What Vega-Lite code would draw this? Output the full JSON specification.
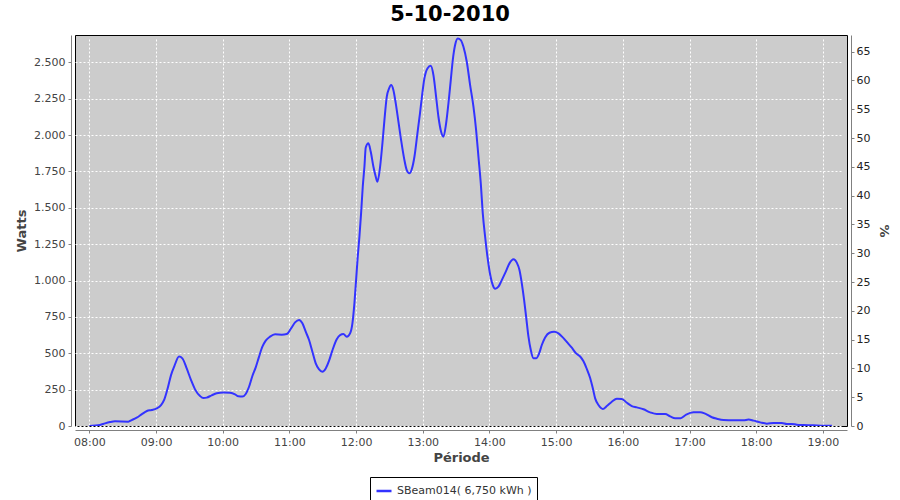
{
  "$schema": "https://vega.github.io/schema/vega-lite/v6.json",
  "width": 772,
  "height": 391,
  "autosize": {"type": "none"},
  "padding": {"left": 75, "top": 35, "right": 53, "bottom": 74},
  "background": "white",
  "title": {"text": "5-10-2010", "font": "DejaVu Sans", "fontSize": 21, "fontWeight": "bold", "color": "black", "anchor": "middle", "frame": "group", "dx": -11, "dy": 20, "baseline": "bottom", "offset": 9},
  "data": {"values": [
    {"t": "2010-10-05T08:00:00", "watts": 0},
    {"t": "2010-10-05T08:09:36", "watts": 7},
    {"t": "2010-10-05T08:14:06", "watts": 18},
    {"t": "2010-10-05T08:18:36", "watts": 27},
    {"t": "2010-10-05T08:23:06", "watts": 32},
    {"t": "2010-10-05T08:35:06", "watts": 30},
    {"t": "2010-10-05T08:38:06", "watts": 41},
    {"t": "2010-10-05T08:42:36", "watts": 57},
    {"t": "2010-10-05T08:47:00", "watts": 80},
    {"t": "2010-10-05T08:51:48", "watts": 103},
    {"t": "2010-10-05T08:56:06", "watts": 110},
    {"t": "2010-10-05T09:00:36", "watts": 121},
    {"t": "2010-10-05T09:04:30", "watts": 144},
    {"t": "2010-10-05T09:07:30", "watts": 183},
    {"t": "2010-10-05T09:10:30", "watts": 259},
    {"t": "2010-10-05T09:13:30", "watts": 350},
    {"t": "2010-10-05T09:16:30", "watts": 412},
    {"t": "2010-10-05T09:20:42", "watts": 477},
    {"t": "2010-10-05T09:23:42", "watts": 465},
    {"t": "2010-10-05T09:27:36", "watts": 396},
    {"t": "2010-10-05T09:31:30", "watts": 316},
    {"t": "2010-10-05T09:35:06", "watts": 252},
    {"t": "2010-10-05T09:39:36", "watts": 206},
    {"t": "2010-10-05T09:42:36", "watts": 192},
    {"t": "2010-10-05T09:45:36", "watts": 195},
    {"t": "2010-10-05T09:50:06", "watts": 211},
    {"t": "2010-10-05T09:54:36", "watts": 225},
    {"t": "2010-10-05T10:00:36", "watts": 231},
    {"t": "2010-10-05T10:06:36", "watts": 229},
    {"t": "2010-10-05T10:11:06", "watts": 218},
    {"t": "2010-10-05T10:14:06", "watts": 204},
    {"t": "2010-10-05T10:17:42", "watts": 202},
    {"t": "2010-10-05T10:20:42", "watts": 220},
    {"t": "2010-10-05T10:23:42", "watts": 270},
    {"t": "2010-10-05T10:26:42", "watts": 344},
    {"t": "2010-10-05T10:29:42", "watts": 403},
    {"t": "2010-10-05T10:32:42", "watts": 477},
    {"t": "2010-10-05T10:35:42", "watts": 545},
    {"t": "2010-10-05T10:38:42", "watts": 587},
    {"t": "2010-10-05T10:42:36", "watts": 614},
    {"t": "2010-10-05T10:47:06", "watts": 630},
    {"t": "2010-10-05T10:53:06", "watts": 628},
    {"t": "2010-10-05T10:57:36", "watts": 632},
    {"t": "2010-10-05T11:01:30", "watts": 671},
    {"t": "2010-10-05T11:05:06", "watts": 712},
    {"t": "2010-10-05T11:08:42", "watts": 729},
    {"t": "2010-10-05T11:11:42", "watts": 706},
    {"t": "2010-10-05T11:14:42", "watts": 648},
    {"t": "2010-10-05T11:17:42", "watts": 591},
    {"t": "2010-10-05T11:20:42", "watts": 511},
    {"t": "2010-10-05T11:23:42", "watts": 431},
    {"t": "2010-10-05T11:26:42", "watts": 389},
    {"t": "2010-10-05T11:29:42", "watts": 373},
    {"t": "2010-10-05T11:32:42", "watts": 396},
    {"t": "2010-10-05T11:35:42", "watts": 449},
    {"t": "2010-10-05T11:38:42", "watts": 520},
    {"t": "2010-10-05T11:42:36", "watts": 596},
    {"t": "2010-10-05T11:45:36", "watts": 625},
    {"t": "2010-10-05T11:48:36", "watts": 632},
    {"t": "2010-10-05T11:51:36", "watts": 614},
    {"t": "2010-10-05T11:54:36", "watts": 637},
    {"t": "2010-10-05T11:56:42", "watts": 706},
    {"t": "2010-10-05T11:58:30", "watts": 843},
    {"t": "2010-10-05T12:00:00", "watts": 1003},
    {"t": "2010-10-05T12:01:30", "watts": 1164},
    {"t": "2010-10-05T12:03:00", "watts": 1301},
    {"t": "2010-10-05T12:04:30", "watts": 1462},
    {"t": "2010-10-05T12:06:00", "watts": 1645},
    {"t": "2010-10-05T12:07:30", "watts": 1782},
    {"t": "2010-10-05T12:08:42", "watts": 1915},
    {"t": "2010-10-05T12:11:06", "watts": 1943},
    {"t": "2010-10-05T12:13:12", "watts": 1885},
    {"t": "2010-10-05T12:15:36", "watts": 1782},
    {"t": "2010-10-05T12:17:42", "watts": 1714},
    {"t": "2010-10-05T12:19:12", "watts": 1679},
    {"t": "2010-10-05T12:21:36", "watts": 1782},
    {"t": "2010-10-05T12:23:42", "watts": 1943},
    {"t": "2010-10-05T12:25:30", "watts": 2103},
    {"t": "2010-10-05T12:27:36", "watts": 2263},
    {"t": "2010-10-05T12:29:42", "watts": 2321},
    {"t": "2010-10-05T12:31:30", "watts": 2344},
    {"t": "2010-10-05T12:33:36", "watts": 2309},
    {"t": "2010-10-05T12:35:42", "watts": 2218},
    {"t": "2010-10-05T12:38:06", "watts": 2092},
    {"t": "2010-10-05T12:40:30", "watts": 1966},
    {"t": "2010-10-05T12:43:12", "watts": 1840},
    {"t": "2010-10-05T12:45:36", "watts": 1759},
    {"t": "2010-10-05T12:48:00", "watts": 1737},
    {"t": "2010-10-05T12:50:06", "watts": 1765},
    {"t": "2010-10-05T12:52:30", "watts": 1851},
    {"t": "2010-10-05T12:55:00", "watts": 2000},
    {"t": "2010-10-05T12:57:30", "watts": 2150},
    {"t": "2010-10-05T12:59:30", "watts": 2280},
    {"t": "2010-10-05T13:01:12", "watts": 2378},
    {"t": "2010-10-05T13:04:12", "watts": 2458},
    {"t": "2010-10-05T13:07:12", "watts": 2477},
    {"t": "2010-10-05T13:09:36", "watts": 2412},
    {"t": "2010-10-05T13:12:00", "watts": 2263},
    {"t": "2010-10-05T13:14:06", "watts": 2126},
    {"t": "2010-10-05T13:16:30", "watts": 2023},
    {"t": "2010-10-05T13:18:36", "watts": 1989},
    {"t": "2010-10-05T13:21:00", "watts": 2080},
    {"t": "2010-10-05T13:23:06", "watts": 2218},
    {"t": "2010-10-05T13:25:12", "watts": 2378},
    {"t": "2010-10-05T13:27:00", "watts": 2516},
    {"t": "2010-10-05T13:29:06", "watts": 2619},
    {"t": "2010-10-05T13:31:30", "watts": 2664},
    {"t": "2010-10-05T13:34:12", "watts": 2653},
    {"t": "2010-10-05T13:36:36", "watts": 2607},
    {"t": "2010-10-05T13:39:36", "watts": 2504},
    {"t": "2010-10-05T13:42:36", "watts": 2344},
    {"t": "2010-10-05T13:45:36", "watts": 2195},
    {"t": "2010-10-05T13:48:00", "watts": 2034},
    {"t": "2010-10-05T13:50:06", "watts": 1851},
    {"t": "2010-10-05T13:52:12", "watts": 1668},
    {"t": "2010-10-05T13:54:00", "watts": 1462},
    {"t": "2010-10-05T13:56:06", "watts": 1301},
    {"t": "2010-10-05T13:58:12", "watts": 1164},
    {"t": "2010-10-05T14:00:18", "watts": 1055},
    {"t": "2010-10-05T14:03:00", "watts": 969},
    {"t": "2010-10-05T14:05:06", "watts": 944},
    {"t": "2010-10-05T14:08:06", "watts": 958},
    {"t": "2010-10-05T14:11:06", "watts": 1003},
    {"t": "2010-10-05T14:14:42", "watts": 1061},
    {"t": "2010-10-05T14:18:00", "watts": 1118},
    {"t": "2010-10-05T14:21:36", "watts": 1146},
    {"t": "2010-10-05T14:24:36", "watts": 1123},
    {"t": "2010-10-05T14:27:00", "watts": 1072},
    {"t": "2010-10-05T14:29:06", "watts": 981},
    {"t": "2010-10-05T14:31:12", "watts": 866},
    {"t": "2010-10-05T14:33:00", "watts": 751},
    {"t": "2010-10-05T14:35:06", "watts": 614},
    {"t": "2010-10-05T14:37:12", "watts": 522},
    {"t": "2010-10-05T14:39:36", "watts": 465},
    {"t": "2010-10-05T14:42:00", "watts": 465},
    {"t": "2010-10-05T14:44:42", "watts": 499},
    {"t": "2010-10-05T14:47:06", "watts": 557},
    {"t": "2010-10-05T14:50:06", "watts": 609},
    {"t": "2010-10-05T14:54:00", "watts": 641},
    {"t": "2010-10-05T14:58:12", "watts": 648},
    {"t": "2010-10-05T15:02:06", "watts": 637},
    {"t": "2010-10-05T15:06:00", "watts": 609},
    {"t": "2010-10-05T15:10:12", "watts": 573},
    {"t": "2010-10-05T15:14:06", "watts": 538},
    {"t": "2010-10-05T15:18:00", "watts": 499},
    {"t": "2010-10-05T15:21:36", "watts": 478},
    {"t": "2010-10-05T15:24:36", "watts": 445},
    {"t": "2010-10-05T15:27:36", "watts": 392},
    {"t": "2010-10-05T15:30:36", "watts": 330},
    {"t": "2010-10-05T15:33:00", "watts": 259},
    {"t": "2010-10-05T15:35:06", "watts": 190},
    {"t": "2010-10-05T15:38:06", "watts": 144},
    {"t": "2010-10-05T15:42:00", "watts": 117},
    {"t": "2010-10-05T15:45:36", "watts": 137},
    {"t": "2010-10-05T15:50:06", "watts": 167},
    {"t": "2010-10-05T15:54:36", "watts": 188},
    {"t": "2010-10-05T15:59:06", "watts": 186},
    {"t": "2010-10-05T16:03:36", "watts": 160},
    {"t": "2010-10-05T16:08:06", "watts": 137},
    {"t": "2010-10-05T16:12:36", "watts": 128},
    {"t": "2010-10-05T16:18:36", "watts": 115},
    {"t": "2010-10-05T16:24:36", "watts": 94},
    {"t": "2010-10-05T16:30:36", "watts": 82},
    {"t": "2010-10-05T16:38:06", "watts": 82},
    {"t": "2010-10-05T16:42:36", "watts": 66},
    {"t": "2010-10-05T16:47:06", "watts": 53},
    {"t": "2010-10-05T16:52:00", "watts": 54},
    {"t": "2010-10-05T16:57:00", "watts": 78},
    {"t": "2010-10-05T17:03:36", "watts": 94},
    {"t": "2010-10-05T17:09:36", "watts": 95},
    {"t": "2010-10-05T17:14:06", "watts": 85},
    {"t": "2010-10-05T17:20:06", "watts": 60},
    {"t": "2010-10-05T17:24:36", "watts": 50},
    {"t": "2010-10-05T17:30:36", "watts": 41},
    {"t": "2010-10-05T17:39:36", "watts": 39},
    {"t": "2010-10-05T17:48:36", "watts": 39},
    {"t": "2010-10-05T17:53:06", "watts": 44},
    {"t": "2010-10-05T17:57:36", "watts": 37},
    {"t": "2010-10-05T18:03:36", "watts": 25},
    {"t": "2010-10-05T18:09:36", "watts": 16},
    {"t": "2010-10-05T18:15:36", "watts": 21},
    {"t": "2010-10-05T18:23:06", "watts": 21},
    {"t": "2010-10-05T18:27:36", "watts": 14},
    {"t": "2010-10-05T18:32:06", "watts": 14},
    {"t": "2010-10-05T18:36:36", "watts": 9},
    {"t": "2010-10-05T18:42:36", "watts": 7},
    {"t": "2010-10-05T18:51:36", "watts": 5},
    {"t": "2010-10-05T19:00:36", "watts": 2},
    {"t": "2010-10-05T19:08:06", "watts": 2}
  ]},
  "layer": [
    {
      "mark": {"type": "line", "interpolate": "monotone", "strokeWidth": 2, "clip": true},
      "encoding": {
        "x": {
          "field": "t", "type": "temporal",
          "scale": {"domain": [
            {"year": 2010, "month": 10, "date": 5, "hours": 7, "minutes": 47, "seconds": 6},
            {"year": 2010, "month": 10, "date": 5, "hours": 19, "minutes": 21, "seconds": 42}
          ], "nice": false},
          "axis": {"title": "Période", "format": "%H:%M", "values": [
            {"year": 2010, "month": 10, "date": 5, "hours": 8},
            {"year": 2010, "month": 10, "date": 5, "hours": 9},
            {"year": 2010, "month": 10, "date": 5, "hours": 10},
            {"year": 2010, "month": 10, "date": 5, "hours": 11},
            {"year": 2010, "month": 10, "date": 5, "hours": 12},
            {"year": 2010, "month": 10, "date": 5, "hours": 13},
            {"year": 2010, "month": 10, "date": 5, "hours": 14},
            {"year": 2010, "month": 10, "date": 5, "hours": 15},
            {"year": 2010, "month": 10, "date": 5, "hours": 16},
            {"year": 2010, "month": 10, "date": 5, "hours": 17},
            {"year": 2010, "month": 10, "date": 5, "hours": 18},
            {"year": 2010, "month": 10, "date": 5, "hours": 19}
          ], "grid": true, "labelFlush": false, "labelOverlap": false, "labelPadding": 3, "titlePadding": 4}
        },
        "y": {
          "field": "watts", "type": "quantitative",
          "scale": {"domain": [0, 2688], "nice": false},
          "axis": {"title": "Watts", "values": [0, 250, 500, 750, 1000, 1250, 1500, 1750, 2000, 2250, 2500], "labelExpr": "replace(format(datum.value, ','), ',', '.')", "grid": true, "labelPadding": 3, "titlePadding": 5}
        },
        "color": {
          "datum": "SBeam014( 6,750 kWh )",
          "type": "nominal",
          "scale": {"range": ["#3333ff"]},
          "legend": {"title": null, "orient": "none", "legendX": 295, "legendY": 442, "direction": "horizontal", "symbolType": "stroke", "symbolSize": 225, "symbolStrokeWidth": 2.5, "labelFont": "DejaVu Sans", "labelFontSize": 11, "labelColor": "#333333", "labelOffset": 4, "strokeColor": "black", "fillColor": "white", "padding": 5}
        }
      }
    },
    {
      "data": {"values": [{"pct": 0}, {"pct": 65}]},
      "mark": {"type": "rule", "opacity": 0},
      "encoding": {
        "y": {
          "field": "pct", "type": "quantitative",
          "scale": {"domain": [0, 67.9], "nice": false},
          "axis": {"orient": "right", "title": "%", "values": [0, 5, 10, 15, 20, 25, 30, 35, 40, 45, 50, 55, 60, 65], "grid": false, "labelColor": "#222222", "labelPadding": 2, "titlePadding": 7}
        }
      }
    }
  ],
  "resolve": {"scale": {"y": "independent"}},
  "config": {
    "view": {"fill": "#cccccc", "stroke": "black", "strokeWidth": 1},
    "axis": {
      "domainColor": "#808080", "tickColor": "#808080", "tickSize": 3, "offset": 4,
      "labelFont": "DejaVu Sans", "labelFontSize": 11, "labelColor": "#444444",
      "titleFont": "DejaVu Sans", "titleFontSize": 13, "titleFontWeight": "bold", "titleColor": "#444444",
      "gridColor": "white", "gridDash": [2, 2], "gridOpacity": 1, "gridWidth": 1
    }
  }
}
